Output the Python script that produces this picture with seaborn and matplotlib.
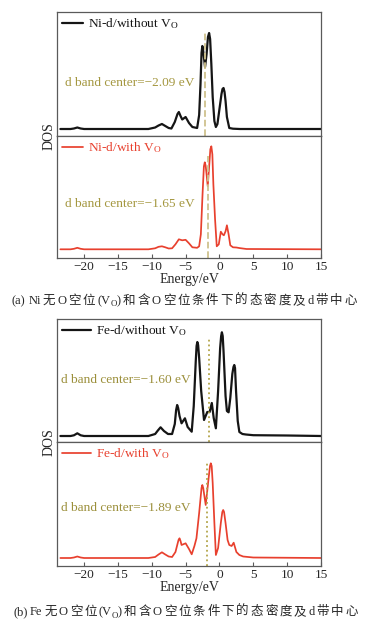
import matplotlib
matplotlib.use('Agg')
import matplotlib.pyplot as plt
import seaborn as sns

# ---- data (DOS in arbitrary units) ----
ni_wo_e = [-23.5, -22, -21.5, -21, -20.5, -20, -10.5, -9.5, -9, -8.5, -8, -7.5, -7.1, -6.6,
           -6.2, -6.0, -5.75, -5.5, -5.0, -4.5, -4.0, -3.3, -3.0, -2.8, -2.65, -2.53, -2.4,
           -2.13, -1.9, -1.7, -1.53, -1.38, -1.2, -1.0, -0.75, -0.53, -0.3, 0.0, 0.3, 0.45,
           0.6, 0.75, 0.9, 1.1, 1.45, 2.0, 3.0, 15]
ni_wo_dos = [0, 0, 0.5, 1.5, 0.5, 0, 0, 1.5, 3.5, 5, 3, 1, 0.5, 7,
             15, 17, 13, 9.5, 12, 6, 2, 1, 14, 45, 76, 83, 78,
             62, 75, 92, 96, 90, 65, 32, 8, 2, 5, 20, 35, 40,
             41, 37, 28, 12, 1, 0.3, 0, 0]

ni_w_e = [-23.5, -22, -21.5, -21, -20.5, -20, -10.5, -9.5, -9, -8.5, -8, -7.5, -7.0, -6.5,
          -6.0, -5.5, -5.0, -4.5, -4.0, -3.3, -3.0, -2.75, -2.5, -2.3, -2.17, -2.05, -1.95,
          -1.73, -1.5, -1.35, -1.2, -1.05, -0.9, -0.65, -0.4, -0.1, 0.2, 0.45, 0.65, 0.9,
          1.1, 1.35, 1.6, 2.0, 2.5, 3.0, 4.0, 15]
ni_w_dos = [0, 0, 0.5, 1.5, 0.5, 0, 0, 1, 2.5, 3, 2, 0.8, 1, 5,
            10, 9, 9.5, 6, 2, 1.5, 3, 15, 55, 83, 87, 84, 78,
            63, 85, 100, 103, 95, 65, 30, 3, 5, 17.6, 15, 14, 18,
            24, 15, 4, 2, 1.8, 1.2, 0.3, 0]

fe_wo_e = [-23.5, -22, -21.5, -21, -20.5, -20, -10.5, -9.5, -9.1, -8.7, -8.2, -7.6, -7.0,
           -6.6, -6.4, -6.25, -6.1, -5.9, -5.6, -5.1, -4.7, -4.1, -3.8, -3.5, -3.38, -3.27,
           -3.15, -3.0, -2.7, -2.28, -1.8, -1.45, -1.13, -0.85, -0.53, -0.2, 0.1, 0.25, 0.36,
           0.48, 0.6, 0.9, 1.1, 1.35, 1.6, 1.9, 2.07, 2.19, 2.3, 2.45, 2.7, 2.94, 3.4, 3.9,
           5, 10, 15]
fe_wo_dos = [0, 0, 0.7, 2.7, 0.7, 0, 0, 2, 5.5, 8.7, 5, 2, 2,
             12, 26, 31, 28, 20, 12.7, 17.7, 9, 4.3, 30, 75, 90, 94,
             91, 78, 45, 16, 24, 24, 33, 18, 7.7, 45, 88, 100, 103.7,
             100, 85, 40, 25, 23.7, 38, 62, 69, 71, 68, 45, 15, 4, 2, 1.5,
             0.8, 0.5, 0]

fe_w_e = [-23.5, -22, -21.5, -21, -20.5, -20, -10.5, -9.5, -9, -8.5, -8, -7.5, -7.0, -6.5,
          -6.05, -5.9, -5.75, -5.6, -5.0, -4.5, -4.1, -3.7, -3.4, -3.0, -2.65, -2.53, -2.4,
          -2.03, -1.6, -1.4, -1.28, -1.15, -1.0, -0.75, -0.53, -0.2, 0.2, 0.42, 0.55, 0.68,
          0.9, 1.2, 1.45, 1.8, 2.1, 2.5, 2.94, 3.5, 5, 15]
fe_w_dos = [0, 0, 0.5, 1.5, 0.5, 0, 0, 1, 3.5, 5.7, 3.5, 1.5, 1, 6,
            18, 19.7, 17, 13, 14.7, 9, 3.7, 12, 19.7, 45, 70, 73, 70,
            53, 80, 92, 94.7, 92, 75, 35, 3, 10, 35, 46, 48, 46,
            35, 18, 13, 12, 15.3, 6, 3, 1.5, 0.5, 0]

labels = ["Ni-d/without $\\mathregular{V_O}$", "Ni-d/with $\\mathregular{V_O}$",
          "Fe-d/without $\\mathregular{V_O}$", "Fe-d/with $\\mathregular{V_O}$"]
centers = [-2.09, -1.65, -1.60, -1.89]
xticks = [-20, -15, -10, -5, 0, 5, 10, 15]
caption_a = ["(a)", "Ni", "无", "O", "空", "位", "(V", "_O", ")", "和", "含", "O", "空", "位",
             "条", "件", "下", "的", "态", "密", "度", "及", "d", "带", "中", "心"]
caption_b = ["(b)", "Fe", "无", "O", "空", "位", "(V", "_O", ")", "和", "含", "O", "空", "位",
             "条", "件", "下", "的", "态", "密", "度", "及", "d", "带", "中", "心"]

sns.set_style('white')
plt.rcParams['font.family'] = ['Liberation Serif', 'Noto Sans CJK SC']
plt.rcParams['mathtext.fontset'] = 'custom'
plt.rcParams['mathtext.rm'] = 'Liberation Serif'
plt.rcParams['mathtext.it'] = 'Liberation Serif:italic'

W, H = 373, 623
fig = plt.figure(figsize=(W / 100, H / 100), dpi=100)

BLACK = '#151515'
RED = '#e8402e'

# (energy, dos, colour, top px, bottom px, ylim, text y, text x, handle length, vline style, vline colour, text colour, has x axis)
panels = [
    (ni_wo_e, ni_wo_dos, BLACK, 12, 136, (-7, 117), 0.427, 0.03, 1.6, '--', '#cfc28e', '#a4973f', False),
    (ni_w_e, ni_w_dos, RED, 136, 258, (-8.7, 113.3), 0.443, 0.03, 1.6, '--', '#cfc28e', '#a4973f', True),
    (fe_wo_e, fe_wo_dos, BLACK, 319, 442, (-6, 117), 0.504, 0.015, 2.2, ':', '#b3a54a', '#9b8f3a', False),
    (fe_w_e, fe_w_dos, RED, 442, 566, (-8, 116), 0.465, 0.015, 2.2, ':', '#b3a54a', '#9b8f3a', True),
]

for i, (e, d, col, top, bot, yl, ty, tx, hl, ls, vcol, tcol, bottom) in enumerate(panels):
    ax = fig.add_axes([57 / W, 1 - bot / H, 264 / W, (bot - top) / H])
    lw = 1.6 if col == BLACK else 1.25
    sns.lineplot(x=e, y=d, ax=ax, color=col, lw=lw, label=labels[i])
    ax.axvline(centers[i], ymin=0, ymax=0.84, color=vcol, ls=ls, lw=1.3)
    ax.text(tx, ty, "d band center=\u2212%.2f eV" % abs(centers[i]), transform=ax.transAxes,
            color=tcol, fontsize=9.6, va='center', ha='left')
    ax.set_xlim(-24, 15)
    ax.set_ylim(*yl)
    ax.set_yticks([])
    for s in ax.spines.values():
        s.set_color('#5a5a5a')
        s.set_linewidth(0.9)
    ax.legend(loc='upper left', frameon=False, fontsize=9.6, handlelength=hl,
              handletextpad=0.4, borderaxespad=0.15, borderpad=0.2, labelcolor='linecolor')
    if bottom:
        ax.set_xticks(xticks)
        ax.set_xticklabels([str(t).replace('-', '\u2212') for t in xticks])
        ax.tick_params(axis='x', direction='in', length=3, width=0.8, color='#5a5a5a',
                       labelsize=9.6, pad=2, bottom=True)
        ax.set_xlabel('Energy/eV', fontsize=10, labelpad=0)
    else:
        ax.set_xticks([])
    ax.set_ylabel('')

# shared DOS labels
fig.text(49 / W, 1 - 136 / H, 'DOS', rotation=90, fontsize=10, ha='center', va='center')
fig.text(49 / W, 1 - 442 / H, 'DOS', rotation=90, fontsize=10, ha='center', va='center')


def caption(tokens, y_px, x0, x1, size=9):
    fig.canvas.draw()
    r = fig.canvas.get_renderer()
    items = []
    for k, tok in enumerate(tokens):
        sub = tok.startswith('_')
        s = tok[1:] if sub else tok
        t = fig.text(0, 0, s, fontsize=size * 0.7 if sub else size, va='baseline', ha='left',
                     family=['Liberation Serif', 'Noto Sans CJK SC'])
        w = t.get_window_extent(r).width
        gap = 0 if (sub or tok == ')' or k == 0) else (1.4 if k == 1 else 1.0)
        items.append((t, w, gap, sub))
    total = sum(w for _, w, _, _ in items)
    unit = (x1 - x0 - total) / sum(g for _, _, g, _ in items)
    x = x0
    for t, w, g, sub in items:
        x += g * unit
        y = y_px + (2.5 if sub else 0)
        t.set_position((x / W, 1 - y / H))
        x += w


caption(caption_a, 304, 12, 357)
caption(caption_b, 615, 13, 358)

fig.savefig('out.png', dpi=100)
